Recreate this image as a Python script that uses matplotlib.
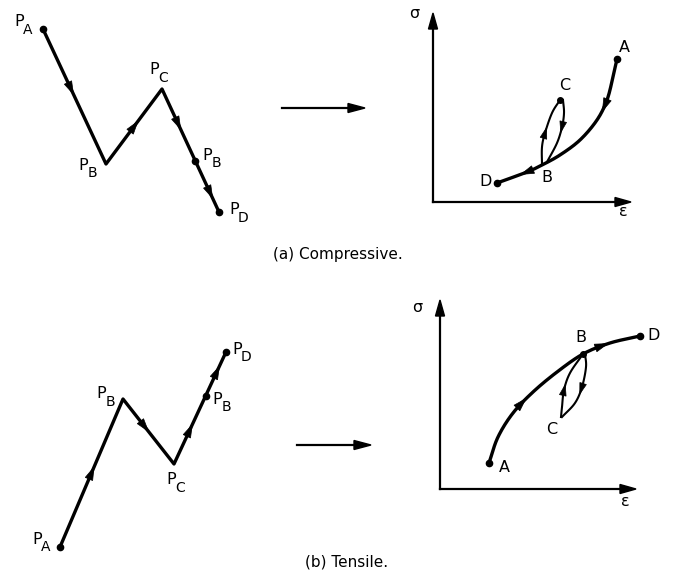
import numpy as np
import matplotlib
matplotlib.use("Agg")
import matplotlib.pyplot as plt
from matplotlib.patches import Polygon

plt.rcParams['font.family'] = ['DejaVu Sans']

# ---------------- data (pixel positions) ----------------
# (a) load path, compressive
path_a_x = [43, 106, 162, 219]
path_a_y = [29, 164, 89, 212]
path_a_mid = (195, 161)
path_a_subs = ['A', 'B', 'C', 'B', 'D']
path_a_label_xy = [(19, 22), (83, 165), (154, 70), (207, 155), (234, 210)]
path_a_arrows = [(70, 88), (135, 127), (178, 123), (208, 192)]

# (a) stress-strain curve
curve_a_x = [617, 613, 607, 597, 580, 560, 542, 527, 497]
curve_a_y = [59, 77, 100, 120, 140, 155, 165, 172, 183]
loop_a_up_x = [542, 542, 545, 552, 560]
loop_a_up_y = [165, 147, 133, 113, 100]
loop_a_dn_x = [563, 564, 562, 557, 547]
loop_a_dn_y = [100, 113, 127, 143, 162]
curve_a_labels = ['A', 'B', 'C', 'D']
curve_a_label_xy = [(624, 47), (547, 177), (565, 86), (486, 182)]
curve_a_arrows = [(604, 105), (527, 172)]
loop_a_arrows_up = [(544, 133)]
loop_a_arrows_dn = [(562, 127)]
axes_a = dict(ox=433, oy=202, top=13, right=631, sig=(414, 13), eps=(623, 212))

# (b) load path, tensile
path_b_x = [60, 123, 174, 226]
path_b_y = [547, 399, 464, 352]
path_b_mid = (206, 396)
path_b_subs = ['A', 'B', 'C', 'B', 'D']
path_b_label_xy = [(37, 539), (101, 394), (171, 480), (217, 399), (237, 349)]
path_b_arrows = [(92, 473), (145, 426), (190, 430), (217, 373)]

# (b) stress-strain curve
curve_b_x = [489, 498, 513, 533, 557, 583, 610, 640]
curve_b_y = [463, 437, 413, 392, 372, 354, 343, 336]
loop_b_up_x = [561, 562, 564, 570, 583]
loop_b_up_y = [417, 407, 390, 373, 354]
loop_b_dn_x = [585, 586, 582, 575, 562]
loop_b_dn_y = [354, 367, 387, 403, 417]
curve_b_labels = ['A', 'B', 'C', 'D']
curve_b_label_xy = [(504, 468), (581, 337), (552, 429), (654, 336)]
curve_b_arrows = [(522, 404), (602, 346)]
loop_b_arrows_up = [(564, 390)]
loop_b_arrows_dn = [(580, 388)]
axes_b = dict(ox=440, oy=489, top=300, right=636, sig=(417, 307), eps=(625, 502))

transfer_arrows = [(282, 365, 108), (297, 371, 445)]
captions = ['(a) Compressive.', '(b) Tensile.']
caption_xy = [(338, 254), (347, 562)]

# ---------------- drawing ----------------
fig = plt.figure(figsize=(6.73, 5.84), dpi=100)
ax = fig.add_axes([0, 0, 1, 1])
ax.set_xlim(0, 673)
ax.set_ylim(584, 0)
ax.axis('off')


def smooth(xs, ys, n=20):
    P = np.column_stack([xs, ys]).astype(float)
    P = np.vstack([P[0] * 2 - P[1], P, P[-1] * 2 - P[-2]])
    out = []
    for i in range(1, len(P) - 2):
        p0, p1, p2, p3 = P[i - 1], P[i], P[i + 1], P[i + 2]
        for t in np.linspace(0, 1, n, endpoint=False):
            t2, t3 = t * t, t * t * t
            out.append(0.5 * ((2 * p1) + (-p0 + p2) * t + (2 * p0 - 5 * p1 + 4 * p2 - p3) * t2
                              + (-p0 + 3 * p1 - 3 * p2 + p3) * t3))
    out.append(P[-2])
    return np.array(out)


def head(pts, loc, L=13, W=4.0):
    d = np.hypot(pts[:, 0] - loc[0], pts[:, 1] - loc[1])
    i = int(np.argmin(d))
    i = min(max(i, 1), len(pts) - 2)
    v = pts[i + 1] - pts[i - 1]
    v = v / np.hypot(*v)
    nrm = np.array([-v[1], v[0]])
    c = pts[i]
    tip = c + v * L * 0.5
    base = c - v * L * 0.5
    ax.add_patch(Polygon([tip, base + nrm * W, base - nrm * W], closed=True,
                         facecolor='black', edgecolor='black', lw=0.5, zorder=4))


def dense_polyline(xs, ys, n=50):
    out = []
    for i in range(len(xs) - 1):
        for t in np.linspace(0, 1, n, endpoint=False):
            out.append([xs[i] + (xs[i + 1] - xs[i]) * t, ys[i] + (ys[i + 1] - ys[i]) * t])
    out.append([xs[-1], ys[-1]])
    return np.array(out)


def p_label(x, y, sub):
    ax.text(x, y, 'P', fontsize=11.5, ha='center', va='center')
    ax.text(x + 9, y + 8, sub, fontsize=10, ha='center', va='center')


def load_path(px, py, mid, subs, label_xy, arrows):
    ax.plot(px, py, color='black', lw=2.4, solid_capstyle='round', solid_joinstyle='round')
    ax.plot([px[0], px[-1], mid[0]], [py[0], py[-1], mid[1]], 'o', color='black', ms=4.5)
    pts = dense_polyline(px, py)
    for a in arrows:
        head(pts, a)
    for s, (x, y) in zip(subs, label_xy):
        p_label(x, y, s)


def ss_axes(d):
    ax.plot([d['ox'], d['ox']], [d['oy'], d['top'] + 10], color='black', lw=1.6)
    ax.plot([d['ox'], d['right'] - 10], [d['oy'], d['oy']], color='black', lw=1.6)
    ax.add_patch(Polygon([[d['ox'], d['top']], [d['ox'] - 4.5, d['top'] + 16], [d['ox'] + 4.5, d['top'] + 16]],
                         closed=True, color='black'))
    ax.add_patch(Polygon([[d['right'], d['oy']], [d['right'] - 16, d['oy'] - 4.5], [d['right'] - 16, d['oy'] + 4.5]],
                         closed=True, color='black'))
    ax.text(*d['sig'], 'σ', fontsize=11.5, ha='center', va='center')
    ax.text(*d['eps'], 'ε', fontsize=11.5, ha='center', va='center')


def ss_curve(cx, cy, lux, luy, ldx, ldy, labels, label_xy, arr, arr_up, arr_dn):
    main = smooth(cx, cy)
    ax.plot(main[:, 0], main[:, 1], color='black', lw=2.4, solid_capstyle='round')
    ax.plot([cx[0], cx[-1]], [cy[0], cy[-1]], 'o', color='black', ms=4.5)
    up = smooth(lux, luy)
    dn = smooth(ldx, ldy)
    ax.plot(up[:, 0], up[:, 1], color='black', lw=1.5)
    ax.plot(dn[:, 0], dn[:, 1], color='black', lw=1.5)
    ax.plot([lux[-1]], [luy[-1]], 'o', color='black', ms=4)
    for a in arr:
        head(main, a)
    for a in arr_up:
        head(up, a, L=11, W=3.4)
    for a in arr_dn:
        head(dn, a, L=11, W=3.4)
    for lab, (x, y) in zip(labels, label_xy):
        ax.text(x, y, lab, fontsize=11.5, ha='center', va='center')


load_path(path_a_x, path_a_y, path_a_mid, path_a_subs, path_a_label_xy, path_a_arrows)
load_path(path_b_x, path_b_y, path_b_mid, path_b_subs, path_b_label_xy, path_b_arrows)
ss_axes(axes_a)
ss_axes(axes_b)
ss_curve(curve_a_x, curve_a_y, loop_a_up_x, loop_a_up_y, loop_a_dn_x, loop_a_dn_y,
         curve_a_labels, curve_a_label_xy, curve_a_arrows, loop_a_arrows_up, loop_a_arrows_dn)
ss_curve(curve_b_x, curve_b_y, loop_b_up_x, loop_b_up_y, loop_b_dn_x, loop_b_dn_y,
         curve_b_labels, curve_b_label_xy, curve_b_arrows, loop_b_arrows_up, loop_b_arrows_dn)

for x0, x1, y in transfer_arrows:
    ax.plot([x0, x1 - 12], [y, y], color='black', lw=1.6)
    ax.add_patch(Polygon([[x1, y], [x1 - 17, y - 4.5], [x1 - 17, y + 4.5]], closed=True, color='black'))

for cap, (x, y) in zip(captions, caption_xy):
    ax.text(x, y, cap, fontsize=11, ha='center', va='center')

fig.savefig('out.png', dpi=100)
